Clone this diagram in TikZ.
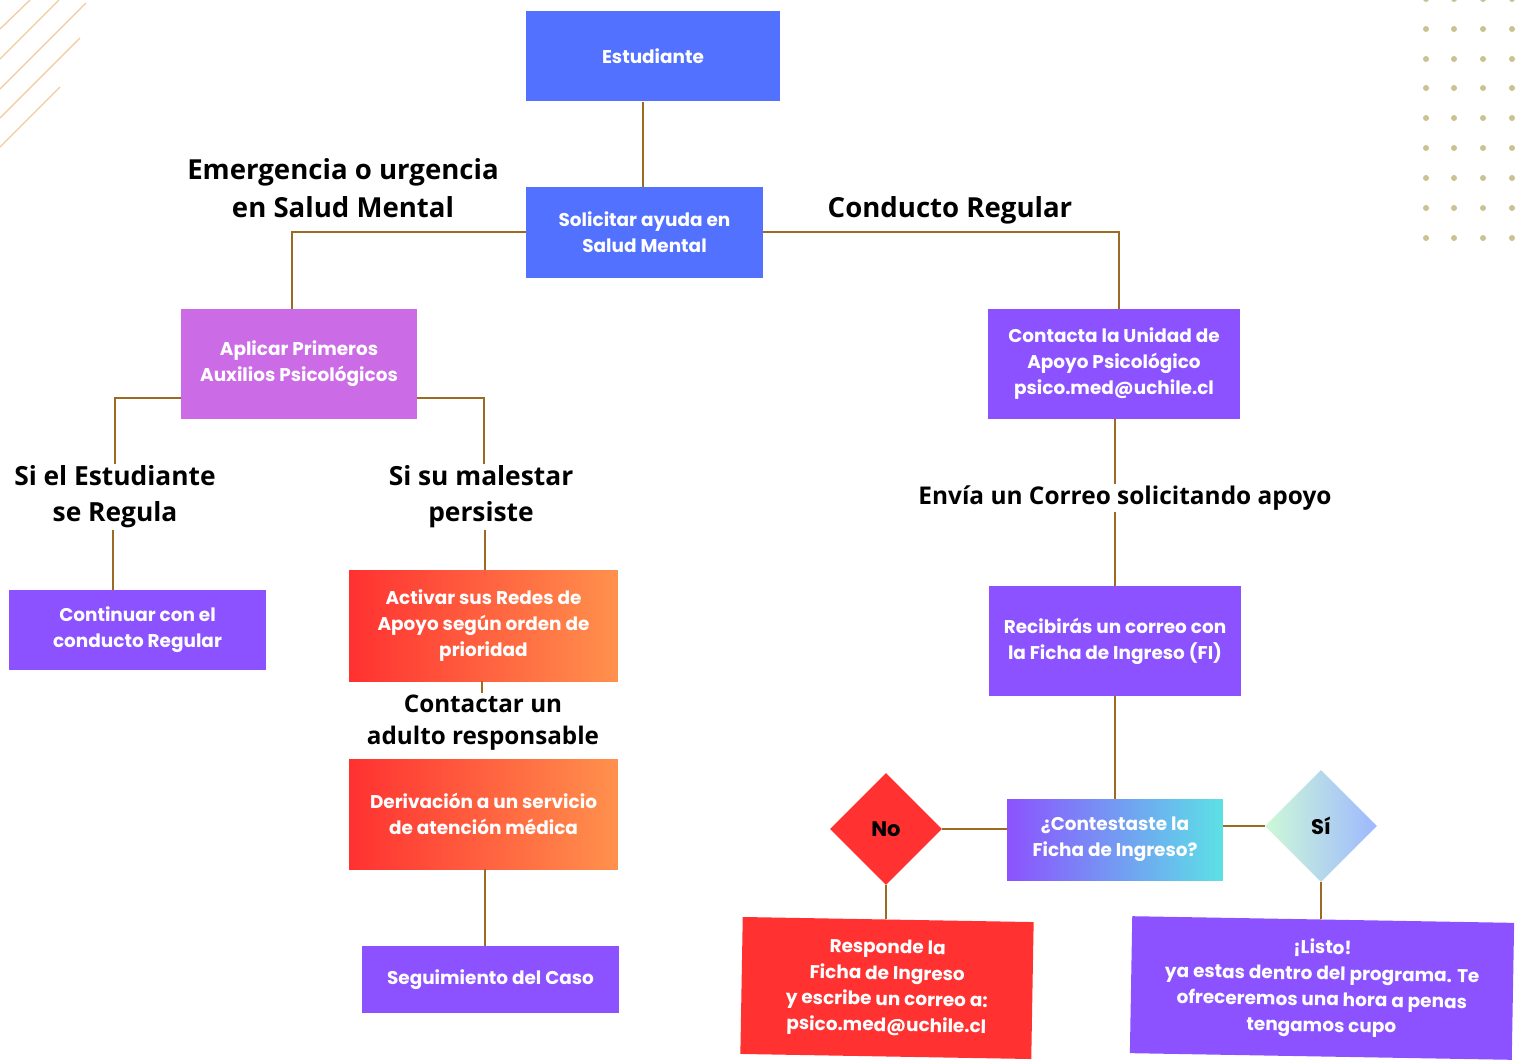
\documentclass[tikz,border=0pt]{standalone}
\usepackage{fontspec}
\setmainfont{Open Sans}
\newfontfamily\boxfont{Poppins}
\usetikzlibrary{shapes.geometric}
\definecolor{cblue}{HTML}{5271FF}
\definecolor{cviolet}{HTML}{CB6CE6}
\definecolor{cpurple}{HTML}{8C52FF}
\definecolor{cred}{HTML}{FF3131}
\definecolor{corange}{HTML}{FF914D}
\definecolor{ccyan}{HTML}{5CE1E6}
\definecolor{cmint}{HTML}{CDF9D7}
\definecolor{clblue}{HTML}{9DB8FF}
\definecolor{linec}{HTML}{9C6A22}
\definecolor{decoc}{HTML}{F3C99C}
\definecolor{dotc}{HTML}{CAC291}
\begin{document}
\begin{tikzpicture}[x=0.02cm,y=-0.02cm,
  box/.style={rectangle, inner sep=0pt, align=center, text=white,
    font=\boxfont\bfseries\fontsize{10.5}{14.8}\selectfont},
  dia/.style={diamond, inner sep=0pt, minimum width=2.24cm, minimum height=2.24cm,
    font=\boxfont\bfseries\fontsize{12}{14}\selectfont, text=black},
  head/.style={align=center, inner sep=1pt, text=black,
    font=\bfseries\fontsize{15}{20.5}\selectfont},
  conn/.style={draw=linec, line width=1.2pt},
  deco/.style={draw=decoc, line width=0.7pt},
  dotm/.style={fill=dotc, draw=none}]
\useasboundingbox (0,0) rectangle (1525,1059);
\fill[white] (0,0) rectangle (1525,1059);

% decorations
\draw[deco] (0,29) -- (30,0);
\draw[deco] (0,59) -- (59,0);
\draw[deco] (0,89) -- (86,3);
\draw[deco] (0,118) -- (80,38);
\draw[deco] (0,147) -- (60,87);
\foreach \xx in {1426,1454,1483,1512}
  \foreach \yy in {-1,29,59,88,118,148,178,208,238}
    \fill[dotm] (\xx,\yy) circle (3);

% boxes
\node[box, fill=cblue, minimum width=5.08cm, minimum height=1.82cm] (est) at (653,56) {Estudiante};
\node[box, fill=cblue, minimum width=4.74cm, minimum height=1.82cm] (sol) at (644.5,232.5) {Solicitar ayuda en\\Salud Mental};
\node[box, fill=cviolet, minimum width=4.72cm, minimum height=2.2cm] (apl) at (299,364) {Aplicar Primeros\\Auxilios Psicológicos};
\node[box, fill=cpurple, minimum width=5.14cm, minimum height=1.6cm] (cont) at (137.5,630) {Continuar con el\\conducto Regular};
\node[box, left color=cred, right color=corange, minimum width=5.38cm, minimum height=2.22cm] (act) at (483.5,625.5) {Activar sus Redes de\\Apoyo según orden de\\prioridad};
\node[box, left color=cred, right color=corange, minimum width=5.38cm, minimum height=2.2cm] (der) at (483.5,814) {Derivación a un servicio\\de atención médica};
\node[box, fill=cpurple, minimum width=5.14cm, minimum height=1.34cm] (seg) at (490.5,979.5) {Seguimiento del Caso};
\node[box, fill=cpurple, minimum width=5.04cm, minimum height=2.2cm] (ctc) at (1114,364) {Contacta la Unidad de\\Apoyo Psicológico\\psico.med@uchile.cl};
\node[box, fill=cpurple, minimum width=5.04cm, minimum height=2.2cm] (rec) at (1115,641) {Recibirás un correo con\\la Ficha de Ingreso (FI)};
\node[box, left color=cpurple, right color=ccyan, minimum width=4.32cm, minimum height=1.62cm] (cst) at (1115,839.5) {¿Contestaste la\\Ficha de Ingreso?};
\node[dia, fill=cred] (no) at (886,829) {No};
\node[dia, left color=cmint, right color=clblue] (si) at (1321,826) {Sí};
\node[box, fill=cred, minimum width=5.82cm, minimum height=2.74cm, rotate=-1] (resp) at (887,988) {Responde la\\Ficha de Ingreso\\y escribe un correo a:\\psico.med@uchile.cl};
\node[box, fill=cpurple, minimum width=7.64cm, minimum height=2.74cm, rotate=-1] (listo) at (1322,988) {¡Listo!\\ya estas dentro del programa. Te\\ofreceremos una hora a penas\\tengamos cupo};

% labels
\node[head, font=\bfseries\fontsize{15.7}{21.6}\selectfont] (emer) at (343,188) {Emergencia o urgencia\\en Salud Mental};
\node[head, font=\bfseries\fontsize{15.7}{21.6}\selectfont] (cond) at (950,210) {Conducto Regular};
\node[head] (sireg) at (115,497) {Si el Estudiante\\se Regula};
\node[head] (sipers) at (481,497) {Si su malestar\\persiste};
\node[head, font=\bfseries\fontsize{13.8}{18.2}\selectfont] (adul) at (483,723) {Contactar un\\adulto responsable};
\node[head, font=\bfseries\fontsize{13.9}{18.2}\selectfont] (envia) at (1125,498) {Envía un Correo solicitando apoyo};

% helper coordinates
\coordinate (c1) at (292,232);
\coordinate (c2) at (1119,232);
\coordinate (c3) at (115,398);
\coordinate (c4) at (484,398);
\coordinate (c5) at (113,0);
\coordinate (c6) at (485,0);
\coordinate (c7) at (482,0);
\coordinate (c8) at (1115,0);
\coordinate (c9) at (643,0);

% connectors
\draw[conn] (est.south -| c9) -- (sol.north -| c9);
\draw[conn] (sol.west |- c1) -| (apl.north -| c1);
\draw[conn] (sol.east |- c2) -| (ctc.north -| c2);
\draw[conn] (apl.west |- c3) -| (sireg.north -| c3);
\draw[conn] (apl.east |- c4) -| (sipers.north -| c4);
\draw[conn] (sireg.south -| c5) -- (cont.north -| c5);
\draw[conn] (sipers.south -| c6) -- (act.north -| c6);
\draw[conn] (act.south -| c7) -- (adul.north -| c7);
\draw[conn] (der.south -| c6) -- (seg.north -| c6);
\draw[conn] (ctc.south -| c8) -- (envia.north -| c8);
\draw[conn] (envia.south -| c8) -- (rec.north -| c8);
\draw[conn] (rec.south -| c8) -- (cst.north -| c8);
\draw[conn] (no.east) -- (cst.west |- no.east);
\draw[conn] (cst.east |- si.west) -- (si.west);
\draw[conn] (no.south) -- (no.south |- resp.north);
\draw[conn] (si.south) -- (si.south |- listo.north);
\end{tikzpicture}
\end{document}
